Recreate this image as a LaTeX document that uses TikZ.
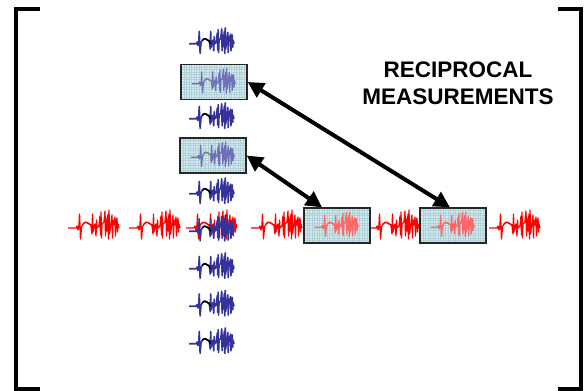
\documentclass[tikz,border=0pt]{standalone}
\usepackage{fontspec}
\setmainfont{Liberation Sans}
\usetikzlibrary{arrows.meta}
\usetikzlibrary{calc}

\definecolor{tracenavy}{RGB}{51,51,153}
\definecolor{screen}{RGB}{214,238,242}
\definecolor{screengrid}{RGB}{176,208,216}

\tikzset{
  pics/ecg/.style 2 args={code={
    \draw[trace,draw=#1] (-26,2) -- (-18,2) -- (-17,0) -- (-16,4) -- (-15,-1)
      -- (-14.5,-12) -- (-13.5,13) -- (-12.5,1) -- (-11,-2)
      .. controls (-8,-6) and (-6,-2) .. (-3,-1)
      -- (-2,8) -- (-1.5,-12) -- (-1,6) -- (0,0) -- (1,-2) -- (2,10)
      -- (2.5,-6) -- (3,2) -- (5,0) -- (6,-10) -- (6.5,9) -- (7,-14)
      -- (7.5,12) -- (8,-2) -- (10,-4) -- (11,-15) -- (11.5,10) -- (12,-8)
      -- (13,5) -- (14,-12) -- (14.5,13) -- (15,-16) -- (15.5,8) -- (17,-3)
      -- (18,-11) -- (18.5,12) -- (19,-6) -- (20,-1) -- (21,-9) -- (21.5,10)
      -- (22,-4) -- (23,-8) -- (23.5,6) -- (24,-2) -- (25,2);
    \draw[trace,draw=#2] (-11,-2) .. controls (-8,-6) and (-6,-2) .. (-3,-1) -- (-2,2);
  }},
  trace/.style={line width=1.3pt,line join=round},
  scopebox/.style={draw=black!85,line width=1.3pt,fill=screen,
    minimum width=66pt,minimum height=35pt,inner sep=0pt,
    path picture={\draw[screengrid,line width=0.3pt]
      (path picture bounding box.south west) grid[step=2.5pt]
      (path picture bounding box.north east);}},
  link/.style={line width=4pt,
    {Triangle[length=16pt,width=16pt]}-{Triangle[length=16pt,width=16pt]}},
  bracket/.style={line width=4pt,line join=miter},
  title/.style={font=\fontsize{22.5}{27}\selectfont\bfseries,align=center}
}

\begin{document}
\begin{tikzpicture}[x=1pt,y=-1pt]
\useasboundingbox (0,0) rectangle (584,391);

% red row
\foreach \x in {94,155,212,277,394,515}
  \pic at (\x,226) {ecg={red}{red}};
% blue column
\foreach \i in {0,2,4,5,6,7,8}
  \pic[scale=0.88,trace/.append style={line width=1.6pt}]
    at (212,{42+37.5*\i}) {ecg={tracenavy}{black}};

\node[scopebox] (vbox1) at (214,82) {};
\node[scopebox] (vbox2) at (213,155.5) {};
\node[scopebox] (hbox1) at (337,225.5) {};
\node[scopebox] (hbox2) at (453,225.5) {};
\pic[scale=0.85] at (vbox1) {ecg={tracenavy!70}{black!50}};
\pic[scale=0.85] at (vbox2) {ecg={tracenavy!70}{black!50}};
\pic[scale=0.85] at (hbox1) {ecg={red!60}{red!60}};
\pic[scale=0.85] at (hbox2) {ecg={red!60}{red!60}};

\draw[link] (vbox1.east) -- ([xshift=-3pt]hbox2.north);
\draw[link] (vbox2.east) -- ([xshift=-15pt]hbox1.north);

\node[title] (label) at (458,83.5) {RECIPROCAL\\MEASUREMENTS};

% brackets
\draw[bracket] (40,9) -- (16,9) -- (16,389) -- (40,389);
\draw[bracket] (558,9) -- (581,9) -- (581,389) -- (558,389);
\end{tikzpicture}
\end{document}
